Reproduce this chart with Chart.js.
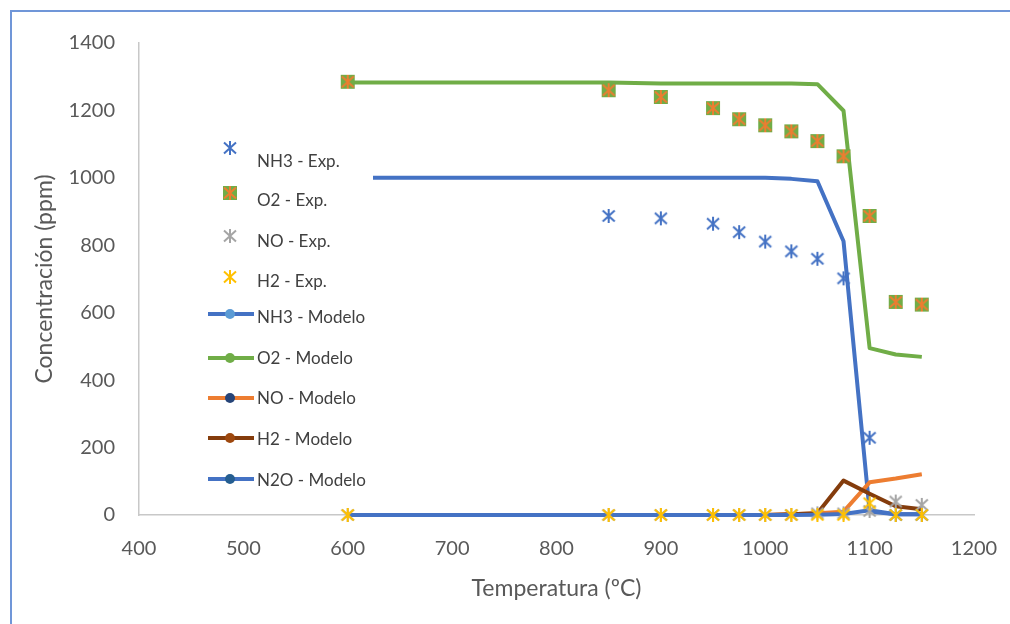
<!DOCTYPE html>
<html>
<head>
<meta charset="utf-8">
<title>Concentración vs Temperatura</title>
<script src="https://cdn.jsdelivr.net/npm/chart.js@4/dist/chart.umd.min.js"></script>
<style>
  html, body { margin: 0; padding: 0; background: #fff; overflow: hidden; }
  #wrap { position: relative; width: 1010px; height: 624px; overflow: hidden; }
  #wrap canvas { position: absolute; left: 0; top: 0; }
  #frame { position: absolute; left: 10px; top: 10px; width: 1100px; height: 800px; border: 2px solid #7096d8; pointer-events: none; }
</style>
</head>
<body>
<div id="wrap">
  <canvas id="chart" width="1010" height="624"></canvas>
  <div id="frame"></div>
</div>
<script>
// Temperatures (ºC) shared by every series
const temps = [600, 850, 900, 950, 975, 1000, 1025, 1050, 1075, 1100, 1125, 1150];

// Experimental concentrations (ppm)
const nh3Exp = [null, 887, 880, 864, 839, 811, 782, 760, 702, 229, 0, 0];
const o2Exp  = [1285, 1260, 1240, 1207, 1174, 1156, 1138, 1109, 1064, 887, 632, 624];
const noExp  = [0, 0, 0, 0, 0, 0, 0, 5, 5, 12, 40, 30];
const h2Exp  = [0, 0, 0, 0, 0, 0, 0, 0, 0, 35, 0, 0];

// Model concentrations (ppm)
const nh3Model = [1000, 1000, 1000, 1000, 1000, 1000, 997, 990, 812, 10, 2, 2];
const o2Model  = [1283, 1283, 1280, 1280, 1280, 1280, 1280, 1278, 1199, 495, 476, 469];
const noModel  = [0, 0, 0, 0, 0, 0, 2, 5, 10, 97, 108, 121];
const h2Model  = [0, 0, 0, 0, 0, 0, 2, 5, 102, 63, 26, 17];
const n2oModel = [0, 0, 0, 0, 0, 0, 0, 1, 3, 14, 2, 2];

const xTicks = { min: 400, max: 1200, step: 100 };
const yTicks = { min: 0, max: 1400, step: 200 };

const FONT = 'Lato, "Liberation Sans", Arial, sans-serif';
Chart.defaults.font.family = FONT;
Chart.defaults.color = '#595959';

// asterisk marker (vertical bar + cross), optionally on a filled square
function starMarker(color, fill) {
  const c = document.createElement('canvas');
  c.width = 16; c.height = 16;
  const g = c.getContext('2d');
  if (fill) {
    g.fillStyle = fill;
    g.fillRect(1, 1, 14, 14);
  }
  g.strokeStyle = color;
  g.lineWidth = 2;
  g.beginPath();
  g.moveTo(8, 1); g.lineTo(8, 15);
  g.moveTo(2, 2.5); g.lineTo(14, 13.5);
  g.moveTo(14, 2.5); g.lineTo(2, 13.5);
  g.stroke();
  return c;
}

const pts = vals => temps.map((t, i) => ({ x: t, y: vals[i] }));
const plain = v => String(v);

function expSet(label, vals, marker, order) {
  return {
    label, data: pts(vals), showLine: false, clip: false, order,
    pointStyle: marker, pointRadius: 7, pointHoverRadius: 7,
    borderColor: 'transparent', backgroundColor: 'transparent'
  };
}

function modelSet(label, vals, color, dot, order) {
  return {
    label, data: pts(vals), showLine: true, clip: false, order,
    borderColor: color, backgroundColor: color, borderWidth: 4,
    borderJoinStyle: 'round', pointRadius: 0, tension: 0,
    legendDot: dot
  };
}

const datasets = [
  expSet('NH3 - Exp.', nh3Exp, starMarker('#4472C4'), 4),
  expSet('O2 - Exp.', o2Exp, starMarker('#ED7D31', '#70AD47'), 3),
  expSet('NO - Exp.', noExp, starMarker('#A5A5A5'), 2),
  expSet('H2 - Exp.', h2Exp, starMarker('#FFC000'), 1),
  modelSet('NH3 - Modelo', nh3Model, '#4472C4', '#5B9BD5', 9),
  modelSet('O2 - Modelo', o2Model, '#70AD47', '#70AD47', 8),
  modelSet('NO - Modelo', noModel, '#ED7D31', '#264478', 7),
  modelSet('H2 - Modelo', h2Model, '#843C0C', '#9E480E', 6),
  modelSet('N2O - Modelo', n2oModel, '#4472C4', '#255E91', 5)
];

// boxed legend sitting inside the plot, drawn over the data
const insetLegend = {
  id: 'insetLegend',
  afterDatasetsDraw(chart) {
    const ctx = chart.ctx;
    const textY = [162, 201, 242, 282, 318, 359, 399, 440, 481];
    const markY = [148, 193, 236, 277];
    const lineY = [314, 358, 398, 438, 479];
    ctx.save();
    ctx.fillStyle = '#fff';
    ctx.fillRect(207, 138, 166, 356);
    ctx.font = '17px ' + FONT;
    ctx.textBaseline = 'middle';
    ctx.textAlign = 'left';
    chart.data.datasets.forEach((ds, i) => {
      if (ds.legendDot) {
        const y = lineY[i - 4];
        ctx.strokeStyle = ds.borderColor;
        ctx.lineWidth = 4;
        ctx.beginPath();
        ctx.moveTo(208, y); ctx.lineTo(254, y);
        ctx.stroke();
        ctx.fillStyle = ds.legendDot;
        ctx.beginPath();
        ctx.arc(230, y, 5, 0, Math.PI * 2);
        ctx.fill();
      } else {
        const m = ds.pointStyle;
        ctx.drawImage(m, 230 - m.width / 2, markY[i] - m.height / 2);
      }
      ctx.fillStyle = '#404040';
      ctx.fillText(ds.label, 257, textY[i]);
    });
    ctx.restore();
  }
};

new Chart(document.getElementById('chart'), {
  type: 'scatter',
  data: { datasets },
  plugins: [insetLegend],
  options: {
    responsive: false,
    animation: false,
    devicePixelRatio: 1,
    layout: { autoPadding: false, padding: { left: 0, top: 43, right: 36, bottom: 0 } },
    plugins: {
      legend: { display: false },
      tooltip: { enabled: false }
    },
    scales: {
      x: {
        type: 'linear',
        min: xTicks.min, max: xTicks.max,
        grid: { display: false, drawTicks: false },
        border: { display: true, color: '#c8c8c8', width: 1.5 },
        ticks: { stepSize: xTicks.step, padding: 22, color: '#595959', font: { size: 20 }, callback: plain },
        title: { display: true, text: 'Temperatura (ºC)', color: '#595959', font: { size: 23 }, padding: { top: 0, bottom: 22 } },
        afterFit: s => { s.height = 109; s.paddingLeft = 0; s.paddingRight = 0; }
      },
      y: {
        min: yTicks.min, max: yTicks.max,
        grid: { display: false, drawTicks: false },
        border: { display: true, color: '#c8c8c8', width: 1.5 },
        ticks: { stepSize: yTicks.step, padding: 24, color: '#595959', font: { size: 20 }, callback: plain },
        title: { display: true, text: 'Concentración (ppm)', color: '#595959', font: { size: 23 }, padding: { top: 31, bottom: 0 } },
        afterFit: s => { s.width = 139; s.paddingTop = 0; s.paddingBottom = 0; }
      }
    }
  }
});
</script>
</body>
</html>
